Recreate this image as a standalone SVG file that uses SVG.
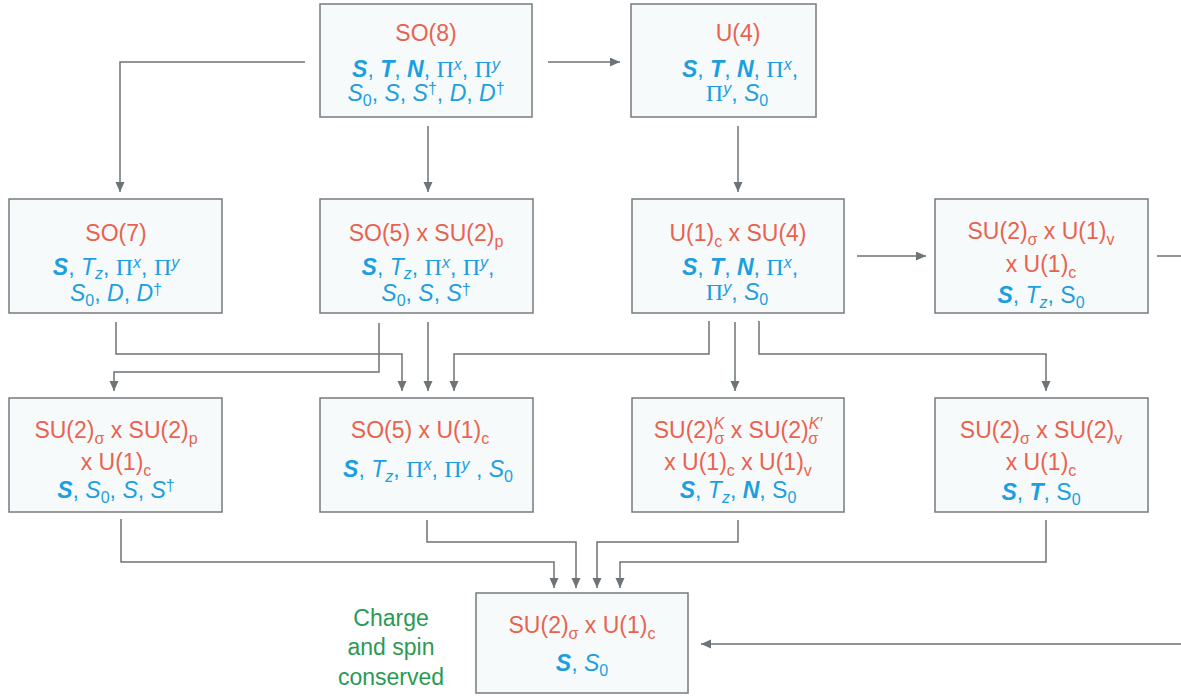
<svg xmlns="http://www.w3.org/2000/svg" width="1181" height="698" viewBox="0 0 1181 698">
  <style>
    .box { fill: #f7fafa; stroke: #777b7e; stroke-width: 1.5; }
    .t { font-family: "Liberation Sans", Arial, sans-serif; font-size: 23px; fill: #e9624f; text-anchor: middle; }
    .b { font-family: "Liberation Sans", Arial, sans-serif; font-size: 23px; fill: #1c9fe0; text-anchor: middle; }
    .g { font-family: "Liberation Sans", Arial, sans-serif; font-size: 23px; fill: #2b9a52; text-anchor: middle; }
    .bi { font-weight: bold; font-style: italic; }
    .i { font-style: italic; }
    .p { font-family: "Liberation Serif", "Times New Roman", serif; font-size: 24px; }
    .sm { font-size: 16px; }
    .ts { font-size: 16px; }
    .conn path { fill: none; stroke: #6d7377; stroke-width: 1.5; }
  </style>
  <defs>
    <marker id="arr" markerUnits="userSpaceOnUse" markerWidth="11" markerHeight="10" refX="10" refY="4.5" orient="auto">
      <path d="M0,0 L10,4.5 L0,9 z" fill="#6d7377"/>
    </marker>
  </defs>

  <!-- connectors -->
  <g id="connectors" class="conn">
    <path d="M305,62 H120 V192" marker-end="url(#arr)"/>
    <path d="M548,62 H620" marker-end="url(#arr)"/>
    <path d="M428,126 V192" marker-end="url(#arr)"/>
    <path d="M738,126 V192" marker-end="url(#arr)"/>
    <path d="M857,256 H926" marker-end="url(#arr)"/>
    <path d="M1157,256 H1195 V644 H701" marker-end="url(#arr)"/>
    <path d="M116,322 V354 H402 V391" marker-end="url(#arr)"/>
    <path d="M379,323 V372 H114 V391" marker-end="url(#arr)"/>
    <path d="M428,322 V391" marker-end="url(#arr)"/>
    <path d="M709,321 V354 H454 V391" marker-end="url(#arr)"/>
    <path d="M735,322 V391" marker-end="url(#arr)"/>
    <path d="M759,321 V354 H1046 V391" marker-end="url(#arr)"/>
    <path d="M121,519 V562 H554 V588" marker-end="url(#arr)"/>
    <path d="M427,520 V542 H576 V588" marker-end="url(#arr)"/>
    <path d="M738,520 V542 H597 V588" marker-end="url(#arr)"/>
    <path d="M1046,520 V562 H620 V588" marker-end="url(#arr)"/>
  </g>

  <!-- SO(8) -->
  <g id="so8">
    <rect class="box" x="320" y="4" width="212" height="113"/>
    <text class="t" x="426" y="41">SO(8)</text>
    <text class="b" x="426" y="77"><tspan class="bi">S</tspan>, <tspan class="bi">T</tspan>, <tspan class="bi">N</tspan>, <tspan class="p">Π</tspan><tspan class="i sm" dy="-7">x</tspan><tspan dy="7">, </tspan><tspan class="p">Π</tspan><tspan class="i sm" dy="-7">y</tspan></text>
    <text class="b" x="426" y="101"><tspan class="i">S</tspan><tspan class="sm" dy="5">0</tspan><tspan dy="-5">, </tspan><tspan class="i">S</tspan>, <tspan class="i">S</tspan><tspan class="sm" dy="-7">†</tspan><tspan dy="7">, </tspan><tspan class="i">D</tspan>, <tspan class="i">D</tspan><tspan class="sm" dy="-7">†</tspan></text>
  </g>

  <!-- U(4) -->
  <g id="u4">
    <rect class="box" x="631" y="4" width="185" height="113"/>
    <text class="t" x="738" y="41">U(4)</text>
    <text class="b" x="740" y="77"><tspan class="bi">S</tspan>, <tspan class="bi">T</tspan>, <tspan class="bi">N</tspan>, <tspan class="p">Π</tspan><tspan class="i sm" dy="-7">x</tspan><tspan dy="7">,</tspan></text>
    <text class="b" x="737" y="101"><tspan class="p">Π</tspan><tspan class="i sm" dy="-7">y</tspan><tspan dy="7">, </tspan><tspan class="i">S</tspan><tspan class="sm" dy="5">0</tspan></text>
  </g>

  <!-- SO(7) -->
  <g id="so7">
    <rect class="box" x="9" y="199" width="213" height="114"/>
    <text class="t" x="116" y="241">SO(7)</text>
    <text class="b" x="116" y="275"><tspan class="bi">S</tspan>, <tspan class="i">T</tspan><tspan class="i sm" dy="4">z</tspan><tspan dy="-4">, </tspan><tspan class="p">Π</tspan><tspan class="i sm" dy="-7">x</tspan><tspan dy="7">, </tspan><tspan class="p">Π</tspan><tspan class="i sm" dy="-7">y</tspan></text>
    <text class="b" x="116" y="301"><tspan class="i">S</tspan><tspan class="sm" dy="5">0</tspan><tspan dy="-5">, </tspan><tspan class="i">D</tspan>, <tspan class="i">D</tspan><tspan class="sm" dy="-6">†</tspan></text>
  </g>

  <!-- SO(5) x SU(2)p -->
  <g id="so5_su2p">
    <rect class="box" x="320" y="199" width="213" height="114"/>
    <text class="t" x="426" y="241">SO(5) x SU(2)<tspan class="ts" dy="6">p</tspan></text>
    <text class="b" x="428" y="275"><tspan class="bi">S</tspan>, <tspan class="i">T</tspan><tspan class="i sm" dy="4">z</tspan><tspan dy="-4">, </tspan><tspan class="p">Π</tspan><tspan class="i sm" dy="-7">x</tspan><tspan dy="7">, </tspan><tspan class="p">Π</tspan><tspan class="i sm" dy="-7">y</tspan><tspan dy="7">,</tspan></text>
    <text class="b" x="426" y="301"><tspan class="i">S</tspan><tspan class="sm" dy="5">0</tspan><tspan dy="-5">, </tspan><tspan class="i">S</tspan>, <tspan class="i">S</tspan><tspan class="sm" dy="-6">†</tspan></text>
  </g>

  <!-- U(1)c x SU(4) -->
  <g id="u1c_su4">
    <rect class="box" x="632" y="199" width="212" height="114"/>
    <text class="t" x="738" y="241">U(1)<tspan class="ts" dy="6">c</tspan><tspan dy="-6"> x SU(4)</tspan></text>
    <text class="b" x="740" y="275"><tspan class="bi">S</tspan>, <tspan class="bi">T</tspan>, <tspan class="bi">N</tspan>, <tspan class="p">Π</tspan><tspan class="i sm" dy="-7">x</tspan><tspan dy="7">,</tspan></text>
    <text class="b" x="737" y="300"><tspan class="p">Π</tspan><tspan class="i sm" dy="-7">y</tspan><tspan dy="7">, </tspan><tspan class="i">S</tspan><tspan class="sm" dy="5">0</tspan></text>
  </g>

  <!-- SU(2)σ x U(1)v x U(1)c -->
  <g id="su2s_u1v_u1c">
    <rect class="box" x="935" y="199" width="213" height="114"/>
    <text class="t" x="1041" y="239">SU(2)<tspan class="ts" dy="6">σ</tspan><tspan dy="-6"> x U(1)</tspan><tspan class="ts" dy="6">v</tspan></text>
    <text class="t" x="1041" y="272">x U(1)<tspan class="ts" dy="6">c</tspan></text>
    <text class="b" x="1041" y="303"><tspan class="bi">S</tspan>, <tspan class="i">T</tspan><tspan class="i sm" dy="5">z</tspan><tspan dy="-5">, S</tspan><tspan class="sm" dy="5">0</tspan></text>
  </g>

  <!-- SU(2)σ x SU(2)p x U(1)c -->
  <g id="su2s_su2p_u1c">
    <rect class="box" x="9" y="398" width="213" height="114"/>
    <text class="t" x="116" y="438">SU(2)<tspan class="ts" dy="6">σ</tspan><tspan dy="-6"> x SU(2)</tspan><tspan class="ts" dy="6">p</tspan></text>
    <text class="t" x="116" y="470">x U(1)<tspan class="ts" dy="6">c</tspan></text>
    <text class="b" x="116" y="498"><tspan class="bi">S</tspan>, <tspan class="i">S</tspan><tspan class="sm" dy="5">0</tspan><tspan dy="-5">, </tspan><tspan class="i">S</tspan>, <tspan class="i">S</tspan><tspan class="sm" dy="-7">†</tspan></text>
  </g>

  <!-- SO(5) x U(1)c -->
  <g id="so5_u1c">
    <rect class="box" x="320" y="398" width="213" height="114"/>
    <text class="t" x="420" y="438">SO(5) x U(1)<tspan class="ts" dy="6">c</tspan></text>
    <text class="b" x="428" y="477"><tspan class="bi">S</tspan>, <tspan class="i">T</tspan><tspan class="i sm" dy="5">z</tspan><tspan dy="-5">, </tspan><tspan class="p">Π</tspan><tspan class="i sm" dy="-7">x</tspan><tspan dy="7">, </tspan><tspan class="p">Π</tspan><tspan class="i sm" dy="-7">y</tspan><tspan dy="7"> , </tspan><tspan class="i">S</tspan><tspan class="sm" dy="5">0</tspan></text>
  </g>

  <!-- SU(2)σK x SU(2)σK' x U(1)c x U(1)v -->
  <g id="su2k_su2kp">
    <rect class="box" x="632" y="398" width="212" height="114"/>
    <text class="t" x="738" y="438">SU(2)<tspan class="ts i" dy="-9">K</tspan><tspan class="ts" dx="-10" dy="15">σ</tspan><tspan dy="-6"> x SU(2)</tspan><tspan class="ts i" dy="-9">K′</tspan><tspan class="ts" dx="-14" dy="15">σ</tspan></text>
    <text class="t" x="738" y="470">x U(1)<tspan class="ts" dy="6">c</tspan><tspan dy="-6"> x U(1)</tspan><tspan class="ts" dy="6">v</tspan></text>
    <text class="b" x="738" y="498"><tspan class="bi">S</tspan>, <tspan class="i">T</tspan><tspan class="i sm" dy="5">z</tspan><tspan dy="-5">, </tspan><tspan class="bi">N</tspan>, S<tspan class="sm" dy="5">0</tspan></text>
  </g>

  <!-- SU(2)σ x SU(2)v x U(1)c -->
  <g id="su2s_su2v_u1c">
    <rect class="box" x="935" y="398" width="213" height="114"/>
    <text class="t" x="1041" y="438">SU(2)<tspan class="ts" dy="6">σ</tspan><tspan dy="-6"> x SU(2)</tspan><tspan class="ts" dy="6">v</tspan></text>
    <text class="t" x="1041" y="470">x U(1)<tspan class="ts" dy="6">c</tspan></text>
    <text class="b" x="1041" y="500"><tspan class="bi">S</tspan>, <tspan class="bi">T</tspan>, S<tspan class="sm" dy="5">0</tspan></text>
  </g>

  <!-- SU(2)σ x U(1)c -->
  <g id="su2s_u1c">
    <rect class="box" x="476" y="593" width="212" height="100"/>
    <text class="t" x="582" y="633">SU(2)<tspan class="ts" dy="6">σ</tspan><tspan dy="-6"> x U(1)</tspan><tspan class="ts" dy="6">c</tspan></text>
    <text class="b" x="582" y="671"><tspan class="bi">S</tspan>, <tspan class="i">S</tspan><tspan class="sm" dy="5">0</tspan></text>
  </g>

  <!-- caption beside the final node -->
  <g id="caption">
    <text class="g" x="391" y="626">Charge</text>
    <text class="g" x="391" y="655">and spin</text>
    <text class="g" x="391" y="685">conserved</text>
  </g>
</svg>
